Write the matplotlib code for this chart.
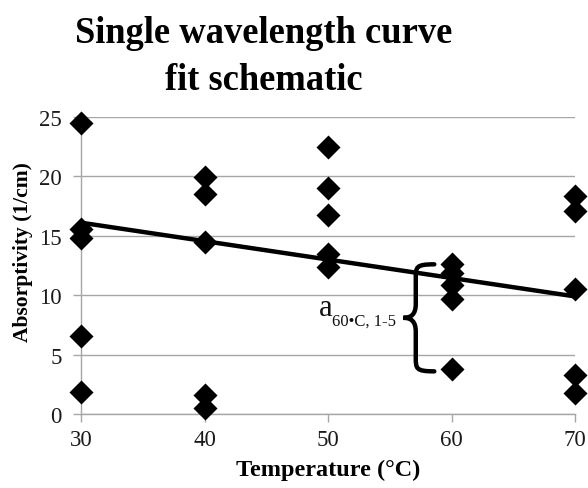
import numpy as np
import matplotlib
matplotlib.use("Agg")
import matplotlib.pyplot as plt
from matplotlib.path import Path
from matplotlib.patches import PathPatch

plt.rcParams['font.family'] = ['Liberation Serif', 'DejaVu Serif']

# dados
temperaturas = [30, 30, 30, 30, 30,
                40, 40, 40, 40, 40,
                50, 50, 50, 50, 50,
                60, 60, 60, 60, 60,
                70, 70, 70, 70, 70]
absortividade = [24.5, 15.6, 14.8, 6.6, 1.9,
                 19.95, 18.5, 14.5, 1.6, 0.5,
                 22.5, 19.0, 16.75, 13.5, 12.4,
                 12.6, 11.9, 10.9, 9.7, 3.8,
                 18.35, 17.1, 10.5, 3.3, 1.8]

# reta esquematica (nao e o ajuste real dos pontos)
reta_x = [30, 70]
reta_y = [16.1, 9.9]

xticks = [30, 40, 50, 60, 70]
yticks = [0, 5, 10, 15, 20, 25]

cinza = '#a6a6a6'

fig = plt.figure(figsize=(5.88, 4.89), dpi=100)
ax = fig.add_axes([0.138, 0.151, 0.840, 0.608])

ax.set_xlim(30, 70)
ax.set_ylim(0, 25)
ax.set_xticks(xticks)
ax.set_yticks(yticks)
ax.grid(axis='y', color=cinza, linewidth=1)
ax.set_axisbelow(True)
for lado in ['top', 'right']:
    ax.spines[lado].set_visible(False)
for lado in ['left', 'bottom']:
    ax.spines[lado].set_color(cinza)
    ax.spines[lado].set_linewidth(1)
ax.tick_params(axis='both', colors=cinza, length=6, width=1, labelsize=16.5,
               labelcolor='#1a1a1a')
ax.tick_params(axis='y', pad=8)
ax.tick_params(axis='x', pad=5)

ax.plot(reta_x, reta_y, color='black', linewidth=3.2, zorder=3, clip_on=False)
ax.scatter(temperaturas, absortividade, marker='D', s=150, color='black',
           zorder=4, clip_on=False, linewidths=0)

ax.set_xlabel('Temperature (\u00b0C)', fontsize=17.5, fontweight='bold', labelpad=6)
ax.set_ylabel('Absorptivity (1/cm)', fontsize=15.5, fontweight='bold')
ax.yaxis.set_label_coords(-0.097, 0.55)

fig.text(0.448, 1 - 43 / 489, 'Single wavelength curve', fontsize=26.3,
         fontweight='bold', ha='center', va='baseline')
fig.text(0.448, 1 - 90 / 489, 'fit schematic', fontsize=26.3,
         fontweight='bold', ha='center', va='baseline')

# chave "{" marcando os pontos de 60 C
t = np.array(temperaturas)
a = np.array(absortividade)
grupo = a[t == 60]
y0, y1 = grupo.min() - 0.2, grupo.max()
ym = (y0 + y1) / 2
xr = 58.6
w = 2.5
xm = xr - w * 0.6
xl = xr - w
c = (y1 - y0) * 0.13
vert = [(xr, y1),
        (xm, y1), (xm, y1 - c * 0.2), (xm, y1 - c),
        (xm, ym + c),
        (xm, ym + c * 0.25), (xl + w * 0.25, ym), (xl, ym),
        (xl + w * 0.25, ym), (xm, ym - c * 0.25), (xm, ym - c),
        (xm, y0 + c),
        (xm, y0 + c * 0.2), (xm, y0), (xr, y0)]
codigos = [Path.MOVETO,
           Path.CURVE4, Path.CURVE4, Path.CURVE4,
           Path.LINETO,
           Path.CURVE4, Path.CURVE4, Path.CURVE4,
           Path.CURVE4, Path.CURVE4, Path.CURVE4,
           Path.LINETO,
           Path.CURVE4, Path.CURVE4, Path.CURVE4]
ax.add_patch(PathPatch(Path(vert, codigos), facecolor='none', edgecolor='black',
                       linewidth=3.2, zorder=5, capstyle='round'))

ax.annotate('a', xy=(xl, ym), xytext=(-61, 2), textcoords='offset points',
            fontsize=22, ha='left', va='baseline', color='#111111')
ax.annotate('60\u2022C, 1-5', xy=(xl, ym), xytext=(-51.5, -5), textcoords='offset points',
            fontsize=12, ha='left', va='baseline', color='#111111')

fig.savefig('out.png', dpi=100)
